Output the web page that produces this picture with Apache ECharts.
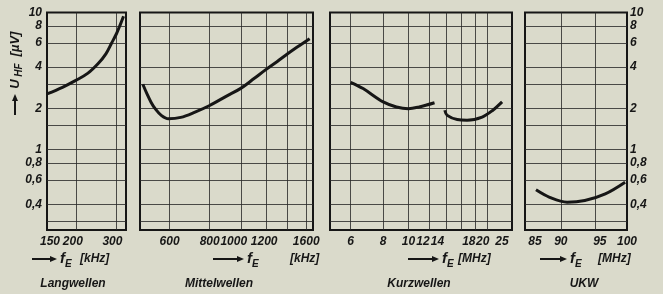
<!DOCTYPE html>
<html><head><meta charset="utf-8">
<script src="https://cdn.jsdelivr.net/npm/echarts@6/dist/echarts.min.js"></script>
<style>html,body{margin:0;padding:0;background:#dadacb;} #c{width:663px;height:294px;}</style>
</head><body><div id="c"></div>
<script>
// ---- data ----
const yGridValues = [0.3, 0.4, 0.6, 0.8, 1, 1.5, 2, 3, 4, 6, 8];
const yLabelValues = [0.4, 0.6, 0.8, 1, 2, 4, 6, 8, 10];

const lwTickLabels = [150, 200, 300];
const lwGridLines = [200, 300];
const lwFreq = [150, 175, 200, 225, 250, 270, 286, 300, 312, 322];
const lwU    = [2.55, 2.85, 3.2, 3.6, 4.25, 5.0, 6.0, 7.0, 8.2, 9.4];

const mwTickLabels = [600, 800, 1000, 1200, 1600];
const mwGridLines = [600, 800, 1000, 1200, 1400, 1600];
const mwFreq = [495, 510, 525, 540, 565, 595, 650, 720, 800, 900, 1000, 1100, 1200, 1300, 1400, 1500, 1640];
const mwU    = [3.0, 2.55, 2.22, 2.0, 1.78, 1.68, 1.72, 1.88, 2.1, 2.45, 2.8, 3.3, 3.85, 4.4, 5.0, 5.6, 6.45];

const kwTickLabels = [6, 8, 10, 12, 14, 18, 20, 25];
const kwGridLines = [6, 8, 10, 12, 14, 16, 18, 20];
const kw1Freq = [6, 6.7, 8, 9, 10, 11, 12.6];
const kw1U    = [3.1, 2.79, 2.23, 2.05, 1.99, 2.05, 2.2];
const kw2Freq = [13.8, 14.1, 15.4, 16.8, 19.2, 21.1, 22.9];
const kw2U    = [1.94, 1.78, 1.66, 1.64, 1.73, 1.94, 2.23];

const ukwTickLabels = [85, 90, 95, 100];
const ukwGridLines = [90, 95];
const ukwFreq = [86.5, 88.4, 90.9, 93.5, 96.6, 99.7];
const ukwU    = [0.51, 0.45, 0.415, 0.427, 0.477, 0.58];

// ---- styling / layout ----
const FONT = "'Liberation Sans',sans-serif";
const INK = '#161616';
const GRIDC = 'rgba(40,40,40,0.82)';
const pair = (xs, ys) => xs.map((x, i) => [x, ys[i]]);
const fmtNum = v => String(+(+v).toPrecision(3)).replace('.', ',');

// horizontal nudges of x tick labels (px, negative = left), as printed
const labelNudge = [
  {150: 3, 200: -3, 300: -4},
  {1000: -7, 1200: -2},
  {12: -6, 14: -9, 18: -6, 20: -4, 25: -10},
  {85: 10, 95: 5}
];

const panels = [
  {left: 47, width: 79, min: 150, max: 330, labels: lwTickLabels, lines: lwGridLines},
  {left: 140, width: 173, min: 485, max: 1680, labels: mwTickLabels, lines: mwGridLines},
  {left: 330, width: 182, min: 5, max: 25, labels: kwTickLabels, lines: kwGridLines},
  {left: 525, width: 102, min: 85, max: 100, labels: ukwTickLabels, lines: ukwGridLines}
];

const labelFont = {color: INK, fontFamily: FONT, fontWeight: 'bold', fontStyle: 'italic', fontSize: 12};

function richFor(nudges) {
  const rich = {};
  Object.keys(nudges).forEach(k => {
    const n = nudges[k];
    rich['k' + k] = Object.assign({}, labelFont,
      {padding: n < 0 ? [0, -2 * n, 0, 0] : [0, 0, 0, 2 * n]});
  });
  return rich;
}

const grid = panels.map(p => ({
  left: p.left, width: p.width, top: 12.5, height: 217.5,
  show: true, borderColor: INK, borderWidth: 2, backgroundColor: 'transparent'
}));

const xAxis = panels.map((p, i) => ({
  type: 'log', logBase: 10, gridIndex: i, min: p.min, max: p.max,
  axisLine: {show: false},
  axisTick: {show: false, customValues: p.lines},
  axisLabel: Object.assign({}, labelFont, {
    customValues: p.labels, margin: 6,
    rich: richFor(labelNudge[i]),
    formatter: v => {
      const t = fmtNum(v);
      return labelNudge[i][t] !== undefined ? '{k' + t + '|' + t + '}' : t;
    }
  }),
  splitLine: {show: true, lineStyle: {color: GRIDC, width: 1}},
  minorTick: {show: false}, minorSplitLine: {show: false}
}));

const yAxis = panels.map((p, i) => ({
  type: 'log', logBase: 10, gridIndex: i, min: 0.26, max: 10,
  position: i === 3 ? 'right' : 'left',
  axisLine: {show: false},
  axisTick: {show: false, customValues: yGridValues},
  axisLabel: Object.assign({}, labelFont, {show: i === 0 || i === 3, customValues: yLabelValues,
    margin: i === 3 ? 3 : 5, formatter: v => fmtNum(v)}),
  splitLine: {show: true, lineStyle: {color: GRIDC, width: 1}},
  minorTick: {show: false}, minorSplitLine: {show: false}
}));

const curve = (data, idx) => ({
  type: 'line', xAxisIndex: idx, yAxisIndex: idx, data: data,
  smooth: 0.35, showSymbol: false, symbol: 'none', silent: true,
  lineStyle: {color: INK, width: 3}
});

const series = [
  curve(pair(lwFreq, lwU), 0),
  curve(pair(mwFreq, mwU), 1),
  curve(pair(kw1Freq, kw1U), 2),
  curve(pair(kw2Freq, kw2U), 2),
  curve(pair(ukwFreq, ukwU), 3)
];

const tStyle = (extra) => Object.assign({fill: INK, fontFamily: FONT, fontWeight: 'bold',
  fontStyle: 'italic', fontSize: 12, textVerticalAlign: 'middle'}, extra);

function xTitle(ax, fx, ex, unit) {
  const y = 259;
  return [
    {type: 'line', shape: {x1: ax, y1: y, x2: fx - 8, y2: y}, style: {stroke: INK, lineWidth: 2}},
    {type: 'polygon', shape: {points: [[fx - 10, y - 3], [fx - 3, y], [fx - 10, y + 3]]}, style: {fill: INK}},
    {type: 'text', x: fx, y: y, style: tStyle({text: 'f', fontSize: 15})},
    {type: 'text', x: fx + 5, y: y + 5, style: tStyle({text: 'E', fontSize: 10})},
    {type: 'text', x: ex, y: y, style: tStyle({text: unit})}
  ];
}

const graphic = [].concat(
  xTitle(32, 60, 80, '[kHz]'),
  xTitle(213, 247, 290, '[kHz]'),
  xTitle(408, 442, 458, '[MHz]'),
  xTitle(540, 570, 598, '[MHz]'),
  [
    {type: 'text', x: 73, y: 284, style: tStyle({text: 'Langwellen', textAlign: 'center'})},
    {type: 'text', x: 219, y: 284, style: tStyle({text: 'Mittelwellen', textAlign: 'center'})},
    {type: 'text', x: 419, y: 284, style: tStyle({text: 'Kurzwellen', textAlign: 'center'})},
    {type: 'text', x: 584, y: 284, style: tStyle({text: 'UKW', textAlign: 'center'})},
    // y-axis title (rotated, reading upward)
    {type: 'line', shape: {x1: 15, y1: 115, x2: 15, y2: 99}, style: {stroke: INK, lineWidth: 2}},
    {type: 'polygon', shape: {points: [[12, 101], [15, 94], [18, 101]]}, style: {fill: INK}},
    {type: 'text', x: 15, y: 84, rotation: Math.PI / 2, style: tStyle({text: 'U', fontSize: 13, textAlign: 'center'})},
    {type: 'text', x: 19, y: 70, rotation: Math.PI / 2, style: tStyle({text: 'HF', fontSize: 10, textAlign: 'center'})},
    {type: 'text', x: 15, y: 44, rotation: Math.PI / 2, style: tStyle({text: '[µV]', fontSize: 13, textAlign: 'center'})}
  ]
);

const chart = echarts.init(document.getElementById('c'), null, {renderer: 'canvas'});
chart.setOption({
  backgroundColor: '#dadacb',
  animation: false,
  grid, xAxis, yAxis, series, graphic
});
</script>
</body></html>
